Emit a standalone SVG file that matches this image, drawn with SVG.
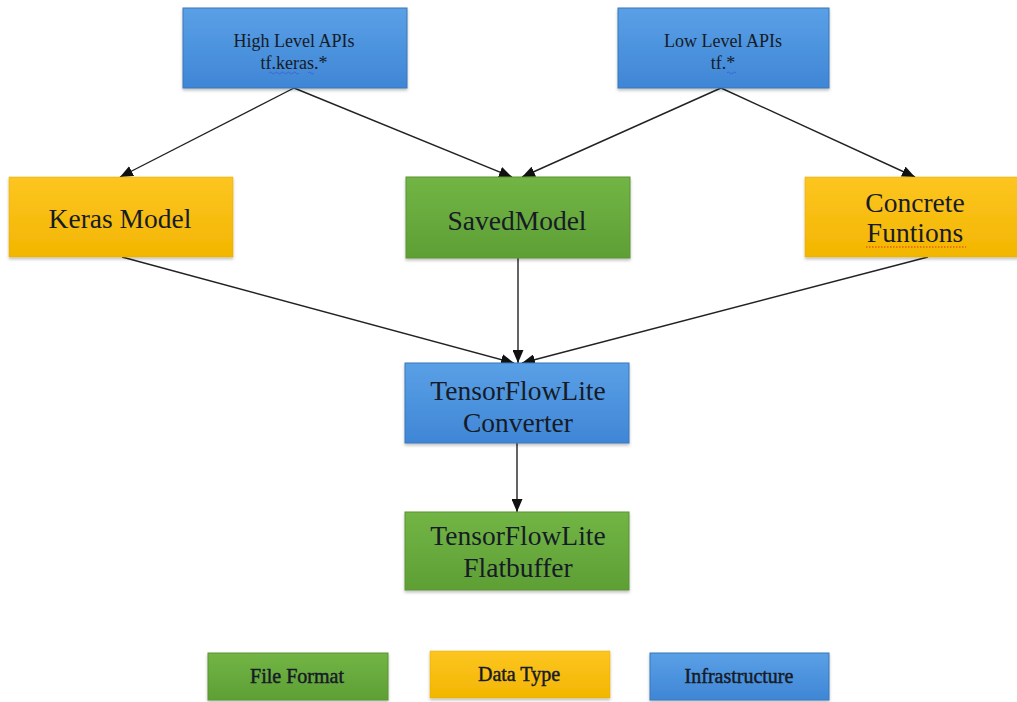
<svg xmlns="http://www.w3.org/2000/svg" width="1017" height="702" viewBox="0 0 1017 702">
<defs>
<linearGradient id="gBlue" x1="0" y1="0" x2="0" y2="1"><stop offset="0" stop-color="#5aa0e6"/><stop offset="1" stop-color="#3f86d6"/></linearGradient>
<linearGradient id="gGreen" x1="0" y1="0" x2="0" y2="1"><stop offset="0" stop-color="#72b545"/><stop offset="1" stop-color="#5e9f35"/></linearGradient>
<linearGradient id="gYellow" x1="0" y1="0" x2="0" y2="1"><stop offset="0" stop-color="#fdc521"/><stop offset="1" stop-color="#f2b600"/></linearGradient>
<filter id="sh" x="-5%" y="-5%" width="110%" height="120%"><feDropShadow dx="0" dy="2" stdDeviation="1.5" flood-color="#000" flood-opacity="0.25"/></filter>
<marker id="ah" viewBox="0 0 13 11" refX="13" refY="5.5" markerWidth="13" markerHeight="11" markerUnits="userSpaceOnUse" orient="auto"><path d="M0,0 L13,5.5 L0,11 z" fill="#111"/></marker>
<style>
.blue{fill:url(#gBlue);stroke:#3a76b8;stroke-width:1;filter:url(#sh)}
.green{fill:url(#gGreen);stroke:#5a9432;stroke-width:1;filter:url(#sh)}
.yellow{fill:url(#gYellow);stroke:#e3a800;stroke-width:0.5;filter:url(#sh)}
text{font-family:"Liberation Serif","Times New Roman",serif;fill:#161b26;text-anchor:middle}
.sm{font-size:18px}
.lg{font-size:27.5px}
.lgd{font-size:20px;stroke:#161b26;stroke-width:0.45}
.edge{stroke:#222;stroke-width:1.4;fill:none;marker-end:url(#ah)}
</style>
</defs>
<rect width="1017" height="702" fill="#fff"/>
<g id="connectors">
<line class="edge" x1="294" y1="88" x2="120" y2="177"/>
<line class="edge" x1="294" y1="88" x2="512" y2="177"/>
<line class="edge" x1="721" y1="88" x2="522" y2="177"/>
<line class="edge" x1="721" y1="88" x2="915" y2="177"/>
<line class="edge" x1="122" y1="257" x2="514" y2="363"/>
<line class="edge" x1="518" y1="258" x2="518" y2="363"/>
<line class="edge" x1="928" y1="257" x2="522" y2="363"/>
<line class="edge" x1="517" y1="443" x2="517" y2="512"/>
</g>
<g id="high-level">
<rect class="blue" x="183" y="8" width="224" height="80"/>
<text class="sm" x="294" y="47">High Level APIs</text>
<text class="sm" x="294" y="69">tf.keras.*</text>
<path d="M269,73 q1.5,-2 3,0 t3,0 t3,0 t3,0 t3,0 t3,0 t3,0 t3,0 t3,0 t3,0 M308,73 q1.5,-2 3,0 t3,0" stroke="#3a5fcd" stroke-width="0.8" fill="none"/>
</g>
<g id="low-level">
<rect class="blue" x="618" y="8" width="211" height="80"/>
<text class="sm" x="723" y="47">Low Level APIs</text>
<text class="sm" x="723" y="69">tf.*</text>
<path d="M727,73 q1.5,-2 3,0 t3,0 t3,0" stroke="#3a5fcd" stroke-width="0.8" fill="none"/>
</g>
<g id="keras-model">
<rect class="yellow" x="9" y="177" width="224" height="80"/>
<text class="lg" x="120" y="228">Keras Model</text>
</g>
<g id="savedmodel">
<rect class="green" x="406" y="177" width="224" height="81"/>
<text class="lg" x="517" y="230">SavedModel</text>
</g>
<g id="concrete-functions">
<rect class="yellow" x="805" y="177" width="214" height="80"/>
<text class="lg" x="915" y="212">Concrete</text>
<text class="lg" x="915" y="242">Funtions</text>
<line x1="866" y1="247" x2="966" y2="247" stroke="#e0302a" stroke-width="1" stroke-dasharray="1.5,1.5"/>
</g>
<g id="converter">
<rect class="blue" x="405" y="363" width="224" height="80"/>
<text class="lg" x="518" y="400">TensorFlowLite</text>
<text class="lg" x="518" y="432">Converter</text>
</g>
<g id="flatbuffer">
<rect class="green" x="405" y="512" width="224" height="78"/>
<text class="lg" x="518" y="545">TensorFlowLite</text>
<text class="lg" x="518" y="577">Flatbuffer</text>
</g>
<g id="legend-file-format">
<rect class="green" x="208" y="653" width="180" height="47"/>
<text class="lgd" x="297" y="683">File Format</text>
</g>
<g id="legend-data-type">
<rect class="yellow" x="430" y="651" width="180" height="47"/>
<text class="lgd" x="519" y="681">Data Type</text>
</g>
<g id="legend-infrastructure">
<rect class="blue" x="650" y="653" width="179" height="47"/>
<text class="lgd" x="739" y="683">Infrastructure</text>
</g>
</svg>
